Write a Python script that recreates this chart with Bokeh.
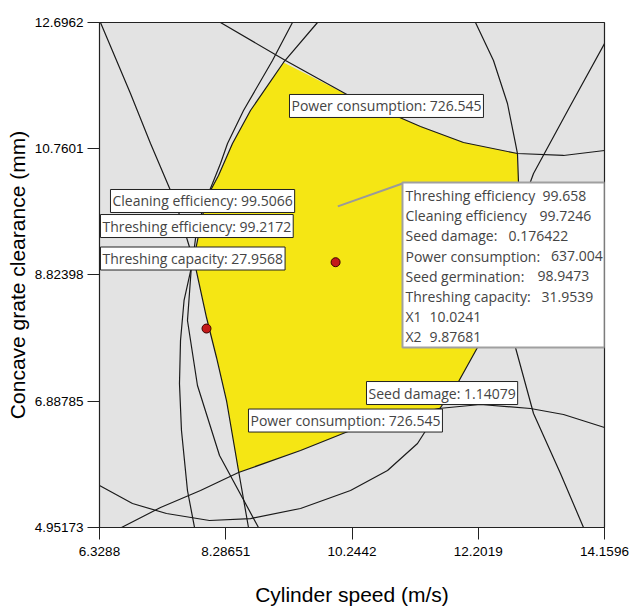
from bokeh.plotting import figure
from bokeh.models import Range1d, FixedTicker, Label, BoxAnnotation
from bokeh.embed import file_html
from bokeh.resources import INLINE

# ---------------- axes ----------------
x_ticks = [6.3288, 8.28651, 10.2442, 12.2019, 14.1596]
x_tick_labels = ["6.3288", "8.28651", "10.2442", "12.2019", "14.1596"]
y_ticks = [4.95173, 6.88785, 8.82398, 10.7601, 12.6962]
y_tick_labels = ["4.95173", "6.88785", "8.82398", "10.7601", "12.6962"]

# ---------------- contour curves (data units) ----------------
pc_upper_x = [8.205, 9.213, 10.221, 10.733, 11.306, 11.973, 12.810, 13.524, 14.160]
pc_upper_y = [12.696, 12.113, 11.561, 11.347, 11.101, 10.856, 10.687, 10.657, 10.733]

pc_lower_x = [6.670, 7.275, 7.895, 8.484, 9.446, 10.221, 10.996, 11.586, 12.237, 13.012, 13.524, 14.160]
pc_lower_y = [4.952, 5.258, 5.519, 5.795, 6.133, 6.439, 6.639, 6.777, 6.838, 6.777, 6.685, 6.485]

seed_x = [6.329, 6.840, 7.368, 8.034, 8.670, 9.446, 10.221, 10.795, 11.260, 11.617, 11.880, 12.190, 12.392, 12.516]
seed_y = [5.596, 5.320, 5.166, 5.059, 5.089, 5.243, 5.519, 5.826, 6.240, 6.792, 7.160, 7.712, 8.203, 8.663]

right_arc_x = [12.159, 12.438, 12.655, 12.779, 12.810, 12.826, 12.841]
right_arc_y = [12.696, 12.113, 11.454, 10.841, 10.687, 10.243, 9.660]

steep_x = [14.160, 13.632, 13.059, 12.733, 12.624, 12.671, 12.779, 13.059, 13.477, 13.834]
steep_y = [12.374, 11.423, 10.381, 9.506, 8.893, 8.280, 7.712, 6.700, 5.780, 4.952]

thr_x = [6.344, 6.809, 7.120, 7.430, 7.585, 7.740, 7.755, 7.693, 7.848, 8.190, 8.794]
thr_y = [12.696, 11.607, 10.841, 10.120, 9.706, 9.200, 8.970, 8.126, 7.129, 6.056, 4.952]

cap_x = [9.321, 9.011, 8.562, 8.314, 8.205, 8.081, 7.972, 7.833, 7.771, 7.640, 7.585, 7.569, 7.600, 7.693, 7.802]
cap_y = [12.696, 12.113, 11.347, 10.841, 10.534, 10.227, 9.967, 9.506, 9.016, 8.433, 7.820, 7.160, 6.440, 5.519, 4.952]

clean_x = [9.709, 9.182, 8.670, 8.391, 8.174, 8.050, 7.988, 7.895, 7.817, 7.802, 7.988, 8.143, 8.298, 8.484, 8.639]
clean_y = [12.696, 12.083, 11.347, 10.841, 10.350, 10.120, 10.013, 9.583, 9.200, 9.016, 8.172, 7.559, 6.899, 5.826, 4.952]

# feasible (yellow) region outline
region_x = [9.182, 10.221, 10.733, 11.306, 11.973, 12.810, 12.826, 12.841, 12.733, 12.516, 12.392, 12.190,
            11.880, 11.601, 10.996, 10.221, 9.446, 8.484, 8.298, 8.143, 7.988, 7.802, 7.817, 7.895,
            7.988, 8.050, 8.174, 8.391, 8.670]
region_y = [12.083, 11.561, 11.347, 11.101, 10.856, 10.687, 10.243, 9.660, 9.123, 8.663, 8.203, 7.712,
            7.160, 6.777, 6.639, 6.439, 6.133, 5.795, 6.899, 7.559, 8.172, 9.016, 9.200, 9.583,
            10.013, 10.120, 10.350, 10.841, 11.347]

# flagged points
flag_x = [7.988, 9.99, 7.988]
flag_y = [10.013, 9.02, 8.003]

# contour labels
contour_labels = ["Power consumption: 726.545", "Cleaning efficiency: 99.5066",
                  "Threshing efficiency: 99.2172", "Threshing capacity: 27.9568",
                  "Seed damage: 1.14079", "Power consumption: 726.545"]
contour_label_x = [9.275, 6.499, 6.344, 6.344, 10.469, 8.639]
contour_label_y = [11.416, 9.959, 9.575, 9.077, 7.014, 6.592]

# tooltip (selected point)
tip_point = (10.0241, 9.87681)
tip_names = ["Threshing efficiency", "Cleaning efficiency", "Seed damage:", "Power consumption:",
             "Seed germination:", "Threshing capacity:", "X1", "X2"]
tip_values = ["99.658", "99.7246", "0.176422", "637.004", "98.9473", "31.9539", "10.0241", "9.87681"]

# ---------------- figure ----------------
p = figure(frame_width=505, frame_height=505, output_backend="svg", toolbar_location=None,
           x_range=Range1d(6.3288, 14.1596), y_range=Range1d(4.95173, 12.6962),
           min_border_left=99, min_border_top=22, min_border_right=28, min_border_bottom=78)
p.background_fill_color = "#e3e3e3"
p.border_fill_color = "white"
p.outline_line_color = "#222222"
p.outline_line_width = 1.2
p.grid.visible = False

FONT_T = "Liberation Sans"
FONT_L = "Open Sans"

p.xaxis.ticker = FixedTicker(ticks=x_ticks)
p.yaxis.ticker = FixedTicker(ticks=y_ticks)
p.xaxis.major_label_overrides = {t: s for t, s in zip(x_ticks, x_tick_labels)}
p.yaxis.major_label_overrides = {t: s for t, s in zip(y_ticks, y_tick_labels)}
for ax in (p.xaxis, p.yaxis):
    ax.minor_tick_line_color = None
    ax.major_tick_in = 0
    ax.major_tick_out = 12
    ax.major_tick_line_color = "#222222"
    ax.axis_line_color = "#222222"
    ax.major_label_text_font = FONT_T
    ax.major_label_text_font_size = "13.5px"
    ax.major_label_text_color = "black"
    ax.axis_label_text_font = "Liberation Sans"
    ax.axis_label_text_font_size = "21px"
    ax.axis_label_text_font_style = "normal"
    ax.axis_label_text_color = "black"
p.xaxis.axis_label = "Cylinder speed (m/s)"
p.yaxis.axis_label = "Concave grate clearance (mm)"
p.xaxis.major_label_standoff = 7
p.yaxis.major_label_standoff = 4
p.xaxis.axis_label_standoff = 24
p.yaxis.axis_label_standoff = 3

# feasible region
p.patch(region_x, region_y, fill_color="#f5e614", line_color=None)

# contour lines
for cx, cy in [(pc_upper_x, pc_upper_y), (pc_lower_x, pc_lower_y), (seed_x, seed_y),
               (right_arc_x, right_arc_y), (steep_x, steep_y), (thr_x, thr_y),
               (cap_x, cap_y), (clean_x, clean_y)]:
    p.line(cx, cy, line_color="#1a1a1a", line_width=1.2)

# pointer from tooltip box to selected point
box_left, box_right, box_top, box_bottom = 11.027, 14.1596, 10.243, 7.712
p.segment(x0=[box_left], y0=[10.227], x1=[tip_point[0]], y1=[tip_point[1]],
          line_color="#9a9a9a", line_width=2)

# flagged points
p.scatter(flag_x, flag_y, size=9, fill_color="#c41a1a", line_color="#3a0000", line_width=1)

# contour labels
for t, lx, ly in zip(contour_labels, contour_label_x, contour_label_y):
    p.add_layout(Label(x=lx, y=ly, text=t, text_font=FONT_L, text_font_size="14px",
                       text_baseline="middle", text_align="left",
                       background_fill_color="white", border_line_color="#222222",
                       border_line_width=1, padding=2))

# tooltip box
p.add_layout(BoxAnnotation(left=box_left, right=box_right, top=box_top, bottom=box_bottom,
                           fill_color="white", fill_alpha=1.0, line_color="#a0a0a0",
                           line_width=2, line_alpha=1.0))
tip_x = 11.074
tip_val_x = [13.198, 13.152, 12.671, 13.330, 13.121, 13.183, 11.446, 11.446]
row0, row_step = 10.043, 0.3098
for i, (n, v) in enumerate(zip(tip_names, tip_values)):
    yy = row0 - i * row_step
    p.add_layout(Label(x=tip_x, y=yy, text=n, text_font=FONT_L, text_font_size="14px",
                       text_baseline="middle", text_align="left"))
    p.add_layout(Label(x=tip_val_x[i], y=yy, text=v, text_font=FONT_L, text_font_size="14px",
                       text_baseline="middle", text_align="left"))

open("out.html", "w").write(file_html(p, INLINE))
